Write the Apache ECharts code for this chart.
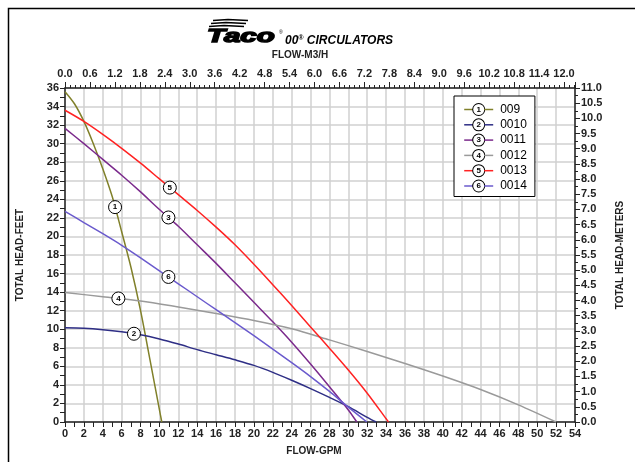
<!DOCTYPE html>
<html><head><meta charset="utf-8">
<script src="https://cdn.jsdelivr.net/npm/echarts@6/dist/echarts.min.js"></script>
<style>html,body{margin:0;padding:0;background:#fff}#c{width:635px;height:462px}</style>
</head><body><div id="c"></div>
<script>
// ---- data (flow GPM, head ft) ----
const pumpNames = ['009', '0010', '0011', '0012', '0013', '0014'];
const pumpColors = ['#80802a', '#2e2e85', '#7b2a8c', '#9a9a9a', '#ff2222', '#6a5acd'];
const curve009 = [[0,35.6],[1,34.3],[2,32.4],[3,30.0],[4,27.3],[5,24.3],[6,20.5],[7,16.6],[8,12.0],[9,6.7],[10,1.3],[10.25,0]];
const curve0010 = [[0,10.15],[2,10.1],[4,9.95],[6,9.72],[8,9.4],[10,8.95],[12,8.4],[14,7.8],[16,7.25],[18,6.7],[20,6.1],[22,5.35],[24,4.5],[26,3.6],[28,2.65],[30,1.65],[32,0.5],[32.95,0]];
const curve0011 = [[0,31.65],[2,30.0],[4,28.3],[6,26.6],[8,24.8],[10,22.9],[12,21.1],[14,19.1],[16,17.1],[18,15.0],[20,12.9],[22,10.8],[24,8.6],[26,6.25],[28,3.8],[30,1.3],[30.9,0]];
const curve0012 = [[0,13.97],[4,13.5],[8,13.05],[12,12.4],[16,11.7],[20,10.95],[24,10.05],[28,8.85],[32,7.6],[36,6.3],[40,4.95],[44,3.5],[48,1.85],[52,0]];
const curve0013 = [[0,33.6],[2,32.4],[4,31.0],[6,29.5],[8,27.9],[10,26.2],[12,24.5],[14,22.8],[16,21.0],[18,19.1],[20,17.0],[22,14.8],[24,12.55],[26,10.25],[28,7.95],[30,5.6],[32,3.1],[34,0.35],[34.25,0]];
const curve0014 = [[0,22.7],[2,21.5],[4,20.3],[6,19.05],[8,17.7],[10,16.3],[12,14.9],[14,13.5],[16,12.1],[18,10.7],[20,9.3],[22,7.85],[24,6.4],[26,4.9],[28,3.3],[30,1.6],[31.96,0]];
const curves = [curve009, curve0010, curve0011, curve0012, curve0013, curve0014];
// flow (GPM) where each curve's numbered marker sits
const labelFlows = [5.3, 7.3, 10.95, 5.65, 11.1, 10.95];

// tick labels
const gpmTicks = [0,2,4,6,8,10,12,14,16,18,20,22,24,26,28,30,32,34,36,38,40,42,44,46,48,50,52,54];
const feetTicks = [0,2,4,6,8,10,12,14,16,18,20,22,24,26,28,30,32,34,36];
const m3hTicks = [0.0,0.6,1.2,1.8,2.4,3.0,3.6,4.2,4.8,5.4,6.0,6.6,7.2,7.8,8.4,9.0,9.6,10.2,10.8,11.4,12.0];
const meterTicks = [0.0,0.5,1.0,1.5,2.0,2.5,3.0,3.5,4.0,4.5,5.0,5.5,6.0,6.5,7.0,7.5,8.0,8.5,9.0,9.5,10.0,10.5,11.0];
const GPM_TO_M3H = 0.22712;

function interp(curve, x) {
  for (let i = 0; i < curve.length - 1; i++) {
    const a = curve[i], b = curve[i + 1];
    if (x >= a[0] && x <= b[0]) return a[1] + (b[1] - a[1]) * (x - a[0]) / (b[0] - a[0]);
  }
  return curve[curve.length - 1][1];
}

const FONT = 'Liberation Sans';
const AX = '#222';
const axisLineStyle = { lineStyle: { color: AX, width: 1.5 } };
const labelStyle = { fontSize: 11, fontWeight: 'bold', color: AX, fontFamily: FONT };
const nameStyle = { fontSize: 10, fontWeight: 'bold', color: AX, fontFamily: FONT };
const gridLine = { show: true, lineStyle: { color: '#d0d0d0', width: 1.5 } };

const rich = {
  c: { width: 11, height: 11, lineHeight: 11, borderRadius: 6, borderWidth: 1, borderColor: '#000', backgroundColor: '#fff', align: 'center', fontSize: 8, fontWeight: 'bold', color: '#000', fontFamily: FONT },
  t: { fontSize: 12, color: '#000', padding: [0, 0, 0, 7], fontFamily: FONT, lineHeight: 13 }
};
pumpColors.forEach((col, i) => { rich['l' + i] = { width: 9, height: 1.5, backgroundColor: col }; });

const series = pumpNames.map((name, i) => ({
  name: name,
  type: 'line',
  xAxisIndex: 0,
  yAxisIndex: 0,
  data: curves[i],
  symbol: 'none',
  showSymbol: false,
  smooth: 0.3,
  color: pumpColors[i],
  lineStyle: { color: pumpColors[i], width: 1.5 },
  z: 3,
  markPoint: {
    symbol: 'circle',
    symbolSize: 13,
    itemStyle: { color: '#fff', borderColor: '#000', borderWidth: 1 },
    label: { show: true, position: 'inside', formatter: String(i + 1), color: '#000', fontSize: 8, fontWeight: 'bold', fontFamily: FONT },
    data: [{ coord: [labelFlows[i], interp(curves[i], labelFlows[i])] }],
    animation: false
  }
}));

const chart = echarts.init(document.getElementById('c'), null, { renderer: 'canvas' });
chart.setOption({
  animation: false,
  textStyle: { fontFamily: FONT },
  grid: { left: 65, right: 60, top: 88, bottom: 40, containLabel: false },
  legend: {
    data: pumpNames,
    orient: 'vertical',
    left: 454,
    top: 96,
    padding: [7, 8, 4, 0],
    itemWidth: 0,
    itemHeight: 13,
    itemGap: 2.3,
    selectedMode: false,
    backgroundColor: '#fff',
    borderColor: '#000',
    borderWidth: 1,
    itemStyle: { opacity: 0 },
    lineStyle: { opacity: 0 },
    formatter: function (name) {
      const i = pumpNames.indexOf(name);
      return '{l' + i + '|}{c|' + (i + 1) + '}{l' + i + '|}{t|' + name + '}';
    },
    textStyle: { rich: rich }
  },
  xAxis: [
    {
      type: 'value', position: 'bottom',
      min: gpmTicks[0], max: gpmTicks[gpmTicks.length - 1], interval: gpmTicks[1] - gpmTicks[0],
      axisLine: Object.assign({ onZero: false }, axisLineStyle),
      axisTick: { show: true, length: 5, lineStyle: { color: AX, width: 1 } },
      minorTick: { show: true, splitNumber: 2, length: 5, lineStyle: { color: AX, width: 1 } },
      axisLabel: Object.assign({ margin: 6 }, labelStyle),
      splitLine: gridLine,
      name: 'FLOW-GPM', nameLocation: 'middle', nameGap: 24,
      nameTextStyle: Object.assign({ padding: [0, 12, 0, 0] }, nameStyle)
    },
    {
      type: 'value', position: 'top',
      min: m3hTicks[0], max: gpmTicks[gpmTicks.length - 1] * GPM_TO_M3H, interval: m3hTicks[1] - m3hTicks[0],
      axisLine: Object.assign({ onZero: false }, axisLineStyle),
      axisTick: { show: true, length: 6, lineStyle: { color: AX, width: 1 } },
      minorTick: { show: true, splitNumber: 5, length: 3, lineStyle: { color: AX, width: 1 } },
      axisLabel: Object.assign({ margin: 9, showMaxLabel: false, formatter: v => (+v).toFixed(1) }, labelStyle),
      splitLine: { show: false },
      name: 'FLOW-M3/H', nameLocation: 'middle', nameGap: 28,
      nameTextStyle: Object.assign({ padding: [0, 40, 0, 0] }, nameStyle)
    }
  ],
  yAxis: [
    {
      type: 'value', position: 'left',
      min: feetTicks[0], max: feetTicks[feetTicks.length - 1], interval: feetTicks[1] - feetTicks[0],
      axisLine: Object.assign({ onZero: false }, axisLineStyle),
      axisTick: { show: true, length: 5, lineStyle: { color: AX, width: 1 } },
      minorTick: { show: true, splitNumber: 2, length: 5, lineStyle: { color: AX, width: 1 } },
      axisLabel: Object.assign({ margin: 6 }, labelStyle),
      splitLine: gridLine,
      name: 'TOTAL HEAD-FEET', nameLocation: 'middle', nameGap: 40, nameRotate: 90,
      nameTextStyle: nameStyle
    },
    {
      type: 'value', position: 'right',
      min: meterTicks[0], max: meterTicks[meterTicks.length - 1], interval: meterTicks[1] - meterTicks[0],
      axisLine: Object.assign({ onZero: false }, axisLineStyle),
      axisTick: { show: true, length: 5, lineStyle: { color: AX, width: 1 } },
      minorTick: { show: true, splitNumber: 2, length: 3, lineStyle: { color: AX, width: 1 } },
      axisLabel: Object.assign({ margin: 6, formatter: v => (+v).toFixed(1) }, labelStyle),
      splitLine: { show: false },
      name: 'TOTAL HEAD-METERS', nameLocation: 'middle', nameGap: 40, nameRotate: 90,
      nameTextStyle: nameStyle
    }
  ],
  graphic: [
    { type: 'polyline', shape: { points: [[8.5, 470], [8.5, 8.5], [640, 8.5]] }, style: { stroke: '#000', lineWidth: 1.5, fill: null }, silent: true },
    { type: 'polyline', shape: { points: [[213, 20.5], [228, 19.5], [248, 20.5]] }, style: { stroke: '#000', lineWidth: 1.6, fill: null } },
    { type: 'polyline', shape: { points: [[211, 23.5], [226, 22.5], [246, 23.5]] }, style: { stroke: '#000', lineWidth: 1.6, fill: null } },
    { type: 'polyline', shape: { points: [[209, 26.5], [224, 25.5], [244, 26.5]] }, style: { stroke: '#000', lineWidth: 1.6, fill: null } },
    { type: 'text', x: 207, y: 27, scaleX: 1.55, style: { text: 'Taco', font: 'italic bold 19px "Liberation Sans"', fill: '#000', stroke: '#000', lineWidth: 1.5 } },
    { type: 'text', x: 279, y: 30, style: { text: '®', font: '5px "Liberation Sans"', fill: '#000' } },
    { type: 'text', x: 285, y: 35, style: { text: '{a|00}{s|®}{a| CIRCULATORS}', rich: { a: { font: 'italic bold 12px "Liberation Sans"', fill: '#000' }, s: { font: 'italic bold 7px "Liberation Sans"', fill: '#000', verticalAlign: 'top' } } } }
  ],
  series: series
});
</script></body></html>
